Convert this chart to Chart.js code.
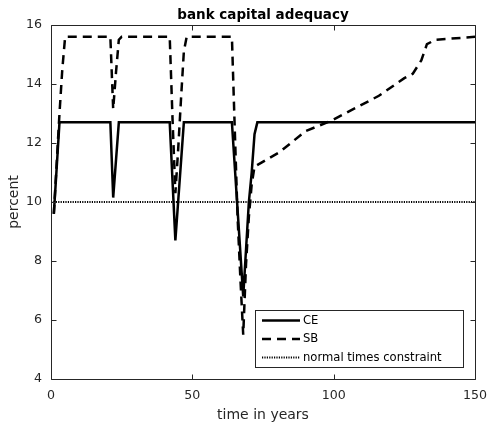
<!DOCTYPE html>
<html>
<head>
<meta charset="utf-8">
<title>bank capital adequacy</title>
<script src="https://cdn.jsdelivr.net/npm/chart.js@4/dist/chart.umd.min.js"></script>
<style>
  html, body { margin: 0; padding: 0; background: #ffffff; }
  canvas { display: block; }
</style>
</head>
<body>
<canvas id="chart" width="488" height="422"></canvas>
<script>
// Capital ratio paths (percent) by year
const ceYears  = [1, 3, 21, 22, 24, 42, 44, 47, 64, 68, 69, 70, 71, 72, 73, 150];
const ceValues = [9.6, 12.7, 12.7, 10.15, 12.7, 12.7, 8.7, 12.7, 12.7, 6.8, 8.4, 10.0, 11.0, 12.3, 12.7, 12.7];

const sbYears  = [1, 2, 3, 4, 5, 21, 22, 23, 24, 25, 42, 43, 44, 45, 46, 47, 48,
                  64, 65, 66, 67, 68, 69, 70, 71, 72, 81, 90, 99, 108, 116, 125, 128, 131, 133, 136, 150];
const sbValues = [9.6, 11.3, 13.0, 14.5, 15.6, 15.6, 13.15, 14.4, 15.5, 15.6, 15.6, 12.8, 10.3, 11.8, 13.5, 15.1, 15.6,
                  15.6, 12.5, 9.5, 7.4, 5.5, 7.9, 9.5, 10.6, 11.2, 11.7, 12.4, 12.75, 13.2, 13.6, 14.2, 14.35, 14.8, 15.35, 15.5, 15.6];

const constraintYears  = [0, 150];
const constraintValues = [10, 10];

const xTickValues = [0, 50, 100, 150];
const yTickValues = [4, 6, 8, 10, 12, 14, 16];

const seriesLabels = ['CE', 'SB', 'normal times constraint'];

const toPoints = (xs, ys) => xs.map((x, i) => ({ x: x, y: ys[i] }));

const FONT = "'DejaVu Sans', 'Liberation Sans', sans-serif";
const AXIS_COLOR = '#262626';
Chart.defaults.font.family = FONT;
Chart.defaults.color = AXIS_COLOR;

// Box around the axes with inward tick marks on all four sides
const framePlugin = {
  id: 'frame',
  afterDatasetsDraw(chart) {
    const { ctx, chartArea: a, scales } = chart;
    const L = Math.round(a.left) + 0.5, R = Math.round(a.right) + 0.5;
    const T = Math.round(a.top) + 0.5, B = Math.round(a.bottom) + 0.5;
    const len = 5;
    ctx.save();
    ctx.strokeStyle = AXIS_COLOR;
    ctx.lineWidth = 1;
    ctx.beginPath();
    ctx.rect(L, T, R - L, B - T);
    scales.x.ticks.forEach(t => {
      const px = Math.round(scales.x.getPixelForValue(t.value)) + 0.5;
      ctx.moveTo(px, B); ctx.lineTo(px, B - len);
      ctx.moveTo(px, T); ctx.lineTo(px, T + len);
    });
    scales.y.ticks.forEach(t => {
      const py = Math.round(scales.y.getPixelForValue(t.value)) + 0.5;
      ctx.moveTo(L, py); ctx.lineTo(L + len, py);
      ctx.moveTo(R, py); ctx.lineTo(R - len, py);
    });
    ctx.stroke();
    ctx.restore();
  }
};

// Boxed legend in the lower right corner of the plot area
const boxLegendPlugin = {
  id: 'boxLegend',
  afterDraw(chart) {
    const { ctx, chartArea: a } = chart;
    const font = '11.6px ' + FONT;
    ctx.save();
    ctx.font = font;
    const sets = chart.data.datasets;
    const textW = Math.max(...sets.map(d => ctx.measureText(d.label).width));
    const padL = 7, sample = 38, gap = 3, padR = 21, rowH = 18.5, padV = 10;
    const w = Math.round(padL + sample + gap + textW + padR);
    const h = Math.round(padV * 2 + rowH * (sets.length - 1));
    const right = Math.round(a.right) - 12, bottom = Math.round(a.bottom) - 12;
    const left = right - w, top = bottom - h;
    ctx.fillStyle = '#ffffff';
    ctx.fillRect(left, top, w, h);
    ctx.strokeStyle = AXIS_COLOR;
    ctx.lineWidth = 1;
    ctx.strokeRect(left + 0.5, top + 0.5, w, h);
    sets.forEach((d, i) => {
      const yy = top + padV + i * rowH + 0.5;
      ctx.beginPath();
      ctx.strokeStyle = d.borderColor;
      ctx.lineWidth = d.borderWidth;
      ctx.setLineDash(d.borderDash || []);
      ctx.moveTo(left + padL, yy);
      ctx.lineTo(left + padL + sample, yy);
      ctx.stroke();
      ctx.setLineDash([]);
      ctx.fillStyle = '#000000';
      ctx.textBaseline = 'middle';
      ctx.textAlign = 'left';
      ctx.fillText(d.label, left + padL + sample + gap, yy);
    });
    ctx.restore();
  }
};

new Chart(document.getElementById('chart'), {
  type: 'line',
  data: {
    datasets: [
      {
        label: seriesLabels[0],
        data: toPoints(ceYears, ceValues),
        borderColor: '#000000',
        borderWidth: 2.5,
        pointRadius: 0,
        tension: 0
      },
      {
        label: seriesLabels[1],
        data: toPoints(sbYears, sbValues),
        borderColor: '#000000',
        borderWidth: 2.5,
        borderDash: [9, 6],
        pointRadius: 0,
        tension: 0
      },
      {
        label: seriesLabels[2],
        data: toPoints(constraintYears, constraintValues),
        borderColor: '#000000',
        borderWidth: 1.8,
        borderDash: [1.2, 1.2],
        pointRadius: 0,
        tension: 0
      }
    ]
  },
  options: {
    responsive: false,
    animation: false,
    layout: { padding: { left: 0, right: 13, top: 0, bottom: 0 } },
    plugins: {
      legend: { display: false },
      tooltip: { enabled: false },
      title: {
        display: true,
        text: 'bank capital adequacy',
        fullSize: false,
        color: '#000000',
        font: { family: FONT, size: 13.5, weight: 'bold', lineHeight: 16 / 13.5 },
        padding: { top: 7, bottom: 2 }
      }
    },
    scales: {
      x: {
        type: 'linear',
        min: 0,
        max: 150,
        grid: { display: false, drawTicks: false },
        border: { display: false },
        afterBuildTicks: s => { s.ticks = xTickValues.map(v => ({ value: v })); },
        ticks: { padding: 9, maxRotation: 0, font: { size: 12.6, lineHeight: 15 / 12.6 }, color: AXIS_COLOR },
        title: {
          display: true,
          text: 'time in years',
          color: AXIS_COLOR,
          font: { size: 14, lineHeight: 0.9 },
          padding: { top: 0, bottom: 0 }
        },
        afterFit: s => { s.height = 43; s.paddingLeft = 0; s.paddingRight = 0; }
      },
      y: {
        type: 'linear',
        min: 4,
        max: 16,
        grid: { display: false, drawTicks: false },
        border: { display: false },
        afterBuildTicks: s => { s.ticks = yTickValues.map(v => ({ value: v })); },
        ticks: { padding: 9, font: { size: 12.6, lineHeight: 15 / 12.6 }, color: AXIS_COLOR },
        title: {
          display: true,
          text: 'percent',
          color: AXIS_COLOR,
          font: { size: 14, lineHeight: 0.9 },
          padding: { top: 8.5, bottom: 0 }
        },
        afterFit: s => { s.width = 51; s.paddingTop = 0; s.paddingBottom = 0; }
      }
    }
  },
  plugins: [framePlugin, boxLegendPlugin]
});
</script>
</body>
</html>
